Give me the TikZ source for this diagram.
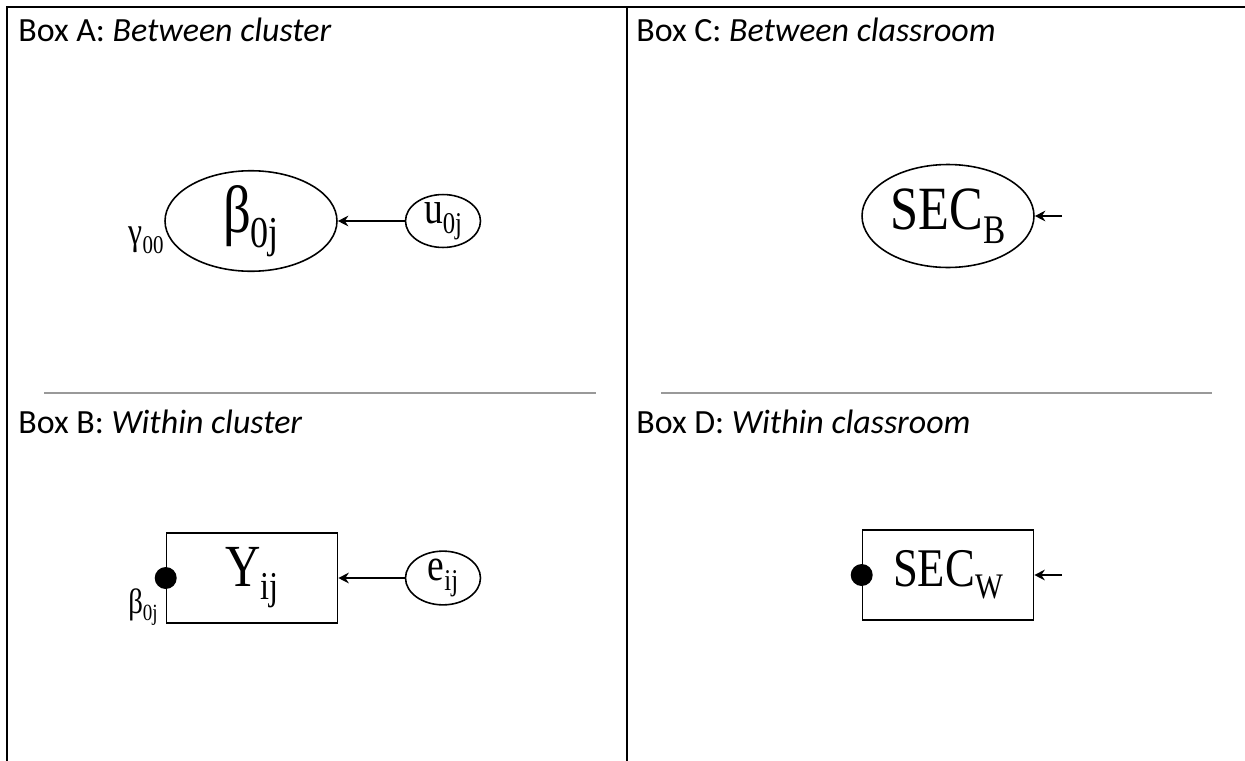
\documentclass[tikz,border=0pt]{standalone}
\usepackage{fontspec}
\usepackage{graphicx}
\setmainfont{Carlito}
\newfontfamily\eqfont[FakeStretch=0.82]{Liberation Serif}
\usetikzlibrary{arrows.meta, positioning, shapes.geometric}
\newcommand{\idx}[1]{\raisebox{-0.22em}{\scalebox{0.66}{#1}}}

\begin{document}
\begin{tikzpicture}[
    x=0.02cm, y=-0.02cm,
    frame/.style={line width=1.3pt},
    divider/.style={draw=gray!80, line width=0.8pt},
    boxtitle/.style={anchor=base west, inner sep=0pt,
                     font=\fontsize{19.3}{23}\selectfont},
    latent/.style={ellipse, draw, line width=0.9pt, inner sep=0pt,
                   minimum width=3.44cm, minimum height=1.95cm},
    residual/.style={ellipse, draw, line width=0.9pt, inner sep=0pt,
                     minimum width=1.5cm, minimum height=0.76cm},
    observed/.style={rectangle, draw, line width=0.9pt, inner sep=0pt,
                     minimum width=3.42cm, minimum height=1.8cm},
    dot/.style={circle, fill=black, inner sep=0pt, minimum size=0.44cm},
    arrow/.style={-{Stealth[length=6pt,width=6pt]}, line width=1.4pt},
    note/.style={inner sep=0pt}
]
\useasboundingbox (0,0) rectangle (1245,761);

% Frame
\draw[frame] (1245,7) -- (7,7) -- (7,761);
\draw[frame] (627,7) -- (627,761);
\draw[divider] (44,393) -- (596,393);
\draw[divider] (661,393) -- (1212,393);

% Box A: between cluster
\node[boxtitle] (titleA) at (18,41) {Box A: \textit{Between cluster}};
\node[latent] at (251,221) (beta0j)
    {\eqfont\fontsize{38}{40}\selectfont β\idx{0j}};
\node[residual] at (443,221) (u0j)
    {\eqfont\fontsize{26}{28}\selectfont u\idx{0j}};
\node[note] at (146,240) (gamma00)
    {\eqfont\fontsize{22}{24}\selectfont γ\idx{00}};
\draw[arrow] (u0j) -- (beta0j);

% Box B: within cluster
\node[boxtitle] (titleB) at (18,433) {Box B: \textit{Within cluster}};
\node[observed] at (252,578) (yij)
    {\eqfont\fontsize{34}{38}\selectfont Y\idx{ij}};
\node[residual] at (443,578) (eij)
    {\eqfont\fontsize{26}{28}\selectfont e\idx{ij}};
\node[dot] at (yij.west) (dotB) {};
\node[note] at (143,607) (beta0jB)
    {\eqfont\fontsize{20}{22}\selectfont β\idx{0j}};
\draw[arrow] (eij) -- (yij);

% Box C: between classroom
\node[boxtitle] (titleC) at (636,41) {Box C: \textit{Between classroom}};
\node[latent, minimum height=2.06cm] at (948,216) (secB)
    {\eqfont\fontsize{35}{38}\selectfont SEC\idx{B}};
\coordinate (errC) at (1062,216);
\draw[arrow] (errC) -- (secB);

% Box D: within classroom
\node[boxtitle] (titleD) at (636,433) {Box D: \textit{Within classroom}};
\node[observed] at (948,575) (secW)
    {\eqfont\fontsize{31}{34}\selectfont SEC\idx{W}};
\node[dot] at (secW.west) (dotD) {};
\coordinate (errD) at (1062,575);
\draw[arrow] (errD) -- (secW);

\end{tikzpicture}
\end{document}
